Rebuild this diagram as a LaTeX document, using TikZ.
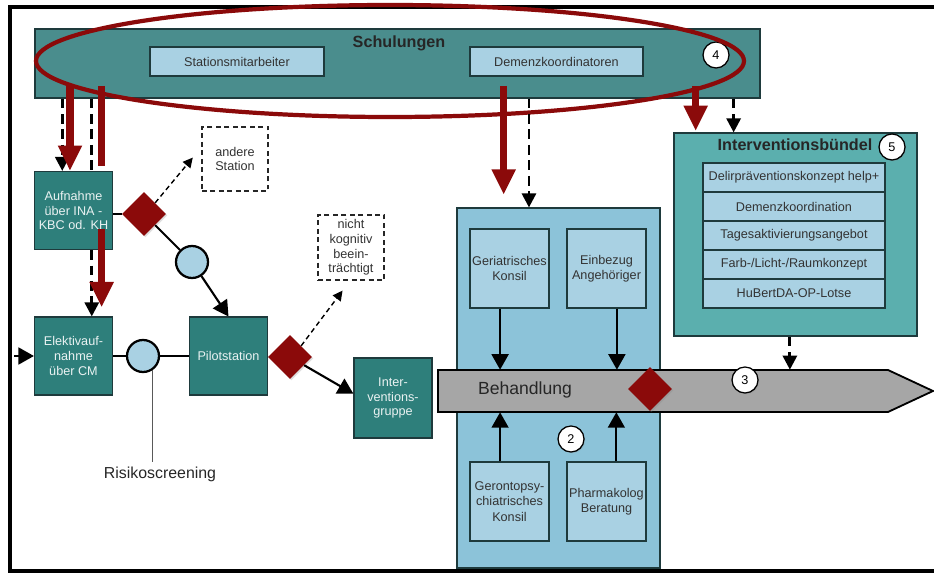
\documentclass[tikz,border=0pt]{standalone}
\usepackage{fontspec}
\setmainfont{Liberation Sans}
\usetikzlibrary{positioning,arrows.meta,shapes.geometric,shadows}

\definecolor{tealdark}{HTML}{2E7F7B}
\definecolor{tealbar}{HTML}{4A8D8D}
\definecolor{tealmid}{HTML}{5BAFAE}
\definecolor{boxblue}{HTML}{A9D1E3}
\definecolor{groupblue}{HTML}{8CC3D9}
\definecolor{procgray}{HTML}{A6A6A6}
\definecolor{darkred}{HTML}{8B0A0A}
\definecolor{edge}{HTML}{1E3A3C}

\def\pxu{0.025cm}

\tikzset{
  sized/.style 2 args={minimum width=#1*\pxu, minimum height=#2*\pxu, inner sep=0pt},
  station/.style={draw=edge, line width=0.8pt, fill=tealdark, text=white!90!tealdark, align=center,
    font=\fontsize{9}{10.6}\selectfont, sized={78}{78}},
  infobox/.style={draw=edge, line width=0.8pt, fill=boxblue, text=black!80, align=center,
    font=\fontsize{9}{11}\selectfont},
  outbox/.style={draw=black!85, line width=1.1pt, dash pattern=on 3.5pt off 2.5pt, fill=white,
    align=center, text=black!80, font=\fontsize{9}{10.4}\selectfont},
  gate/.style={diamond, fill=darkred, sized={44}{44},
    drop shadow={opacity=0.25, shadow xshift=1pt, shadow yshift=-1pt}},
  screen/.style={circle, draw=black, line width=1.6pt, fill=boxblue, sized={32}{32}},
  num/.style={circle, draw=black, line width=0.9pt, fill=white, sized={26}{26},
    font=\fontsize{9}{9}\selectfont, drop shadow={opacity=0.3, shadow xshift=0.8pt, shadow yshift=-0.8pt}},
  flow/.style={line width=1.5pt, black},
  flowarrow/.style={flow, -{Triangle[width=12pt,length=11pt]}},
  feedline/.style={line width=2pt, dash pattern=on 7pt off 4pt},
  feed/.style={feedline, -{Triangle[width=10pt,length=10pt]}},
  maybe/.style={line width=1pt, dash pattern=on 3.5pt off 2.5pt, -{Triangle[width=7pt,length=7pt]}},
  redline/.style={darkred, line width=5pt},
  redarrow/.style={redline, -{Triangle[width=16pt,length=18pt]}},
  title/.style={font=\bfseries\fontsize{11.5}{12}\selectfont, text=black!85},
}

\begin{document}
\begin{tikzpicture}[x=0.025cm, y=-0.025cm]
\useasboundingbox (0,0) rectangle (934,576);
\draw[line width=3pt] (10,7) rectangle (950,571);

% Schulungen
\node[sized={725}{69}, fill=tealbar, draw=edge, line width=0.8pt] (schul) at (397.5,63.5) {};
\node[title] (schultitle) at (399,43) {Schulungen};
\node[infobox, sized={174}{29}] (stmit) at (237,61.5) {Stationsmitarbeiter};
\node[infobox, sized={173}{29}] (demko) at (556.5,61.5) {Demenzkoordinatoren};
\node[num] (n4) at (716,55) {4};
\draw[darkred, line width=3pt] (390,61) ellipse [x radius=354, y radius=56];

% stations
\node[station] (aufn) at (73.5,210.5) {Aufnahme\\über INA -\\KBC od. KH};
\node[station] (elek) at (73.5,356) {Elektivauf-\\nahme\\über CM};
\node[station] (pilot) at (228.5,356) {Pilotstation};
\node[station, sized={78}{80}] (igrp) at (393,398) {Inter-\\ventions-\\gruppe};
\node[outbox, sized={66}{64}] (andere) at (235,159) {andere\\Station};
\node[outbox, sized={66}{65}] (nicht) at (351,247.5) {nicht\\kognitiv\\beein-\\trächtigt};
\node[gate] (gate1) at (144,214) {};
\node[gate] (gate2) at (290,357) {};
\node[screen] (scr1) at (192,262) {};
\node[screen] (scr2) at (143,356) {};
\node[font=\fontsize{11.3}{12}\selectfont, text=black!85] (risk) at (160,474) {Risikoscreening};
\coordinate (entry) at (14,356);

\draw[flow] (aufn.east |- gate1) -- (gate1);
\draw[flow] (gate1) -- (scr1);
\draw[flowarrow] (scr1) -- (pilot.north);
\draw[flow] (elek) -- (scr2);
\draw[flow] (scr2) -- (pilot);
\draw[gray!70!black, line width=1pt] (scr2.-56) -- (scr2.-56 |- risk.north);
\draw[flowarrow] (entry) -- (elek);
\draw[flow] (pilot) -- (gate2);
\draw[flowarrow] (gate2) -- ([yshift=3pt]igrp.west);
\draw[maybe] (gate1.north east) -- ([xshift=-6pt,yshift=1pt]andere.west);
\draw[maybe] (gate2.north east) -- ([xshift=-6pt,yshift=-7pt]nicht.south);

% Behandlung
\node[sized={203}{360}, fill=groupblue, draw=edge, line width=0.8pt] (treat) at (558.5,388) {};
\node[infobox, sized={79}{79}] (geri) at (509.5,268.5) {Geriatrisches\\Konsil};
\node[infobox, sized={79}{79}] (einb) at (606.5,268.5) {Einbezug\\Angehöriger};
\node[infobox, sized={79}{79}] (geronto) at (509.5,501.5) {Gerontopsy-\\chiatrisches\\Konsil};
\node[infobox, sized={79}{79}] (pharm) at (606.5,501.5) {Pharmakolog\\Beratung};
\draw[line width=1.3pt, fill=procgray] (438,370) -- (888,370) -- (933,391) -- (888,412) -- (438,412) -- cycle;
\node[sized={450}{42}] (behand) at (663,391) {};
\node[font=\fontsize{12.5}{13}\selectfont, text=black!85] (behlabel) at (525,390) {Behandlung};
\node[gate] (gate3) at (650,389) {};
\node[num] (n3) at (745,380) {3};
\node[num] (n2) at (571,439) {2};

\draw[flowarrow] ([xshift=-6.7pt]geri.south) -- ([xshift=-6.7pt]geri.south |- behand.north);
\draw[flowarrow] ([xshift=7.4pt]einb.south) -- ([xshift=7.4pt]einb.south |- behand.north);
\draw[flowarrow] ([xshift=-6.7pt]geronto.north) -- ([xshift=-6.7pt]geronto.north |- behand.south);
\draw[flowarrow] ([xshift=7pt]pharm.north) -- ([xshift=7pt]pharm.north |- behand.south);

% Interventionsbuendel
\node[sized={243}{203}, fill=tealmid, draw=edge, line width=0.8pt] (bundle) at (795.5,234.5) {};
\node[title] (bundletitle) at (795,145) {Interventionsbündel};
\node[num] (n5) at (892,147) {5};
\foreach \entry [count=\i] in {Delirpräventionskonzept help+, Demenzkoordination,
    Tagesaktivierungsangebot, Farb-/Licht-/Raumkonzept, HuBertDA-OP-Lotse}
  \node[infobox, sized={182}{29}] (item\i) at (794,{148.5+29*\i}) {\entry};

% feeds from Schulungen
\draw[feed] ([xshift=-8pt]aufn.north |- schul.south) -- ([xshift=-8pt]aufn.north);
\draw[feedline] ([xshift=13pt]aufn.north |- schul.south) -- ([xshift=13pt]aufn.north);
\draw[feed] ([xshift=13pt]aufn.south) -- ([xshift=13pt]elek.north);
\draw[feed] ([xshift=-21pt]treat.north |- schul.south) -- ([xshift=-21pt]treat.north);
\draw[feed] ([xshift=-44pt]bundle.north |- schul.south) -- ([xshift=-44pt]bundle.north);
\draw[feed] ([xshift=-4pt]bundle.south) -- ([xshift=-4pt]bundle.south |- behand.north);

\draw[redarrow] ([xshift=-2.5pt,yshift=9pt]aufn.north |- schul.south) -- ([xshift=-2.5pt]aufn.north);
\draw[redline] ([xshift=20pt,yshift=9pt]aufn.north |- schul.south) -- ([xshift=20pt,yshift=3.5pt]aufn.north);
\draw[redarrow] ([xshift=20pt,yshift=15pt]aufn.south) -- ([xshift=20pt,yshift=6.5pt]elek.north);
\draw[redarrow] ([xshift=-39pt,yshift=9pt]treat.north |- schul.south) -- ([xshift=-39pt,yshift=9pt]treat.north);
\draw[redarrow] ([xshift=-71pt,yshift=9pt]bundle.north |- schul.south) -- ([xshift=-71pt,yshift=1pt]bundle.north);
\end{tikzpicture}
\end{document}
